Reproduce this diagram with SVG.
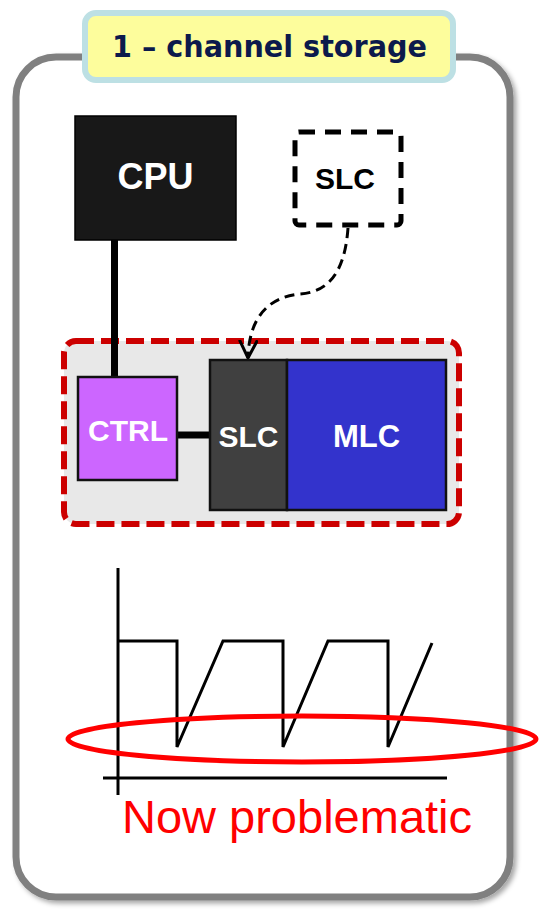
<svg xmlns="http://www.w3.org/2000/svg" width="539" height="909" viewBox="0 0 539 909">
<style>
.lbl{font-family:"Liberation Sans",Arial,sans-serif;font-weight:bold;text-anchor:middle}
.wire{stroke:#000;stroke-width:7;fill:none}
.axis{stroke:#000;stroke-width:3;fill:none}
</style>
<defs>
<filter id="sh" x="-5%" y="-5%" width="115%" height="115%">
<feDropShadow dx="3" dy="3" stdDeviation="2.5" flood-color="#000" flood-opacity="0.35"/>
</filter>
<marker id="arr" viewBox="0 0 20 20" refX="18" refY="10" markerWidth="20" markerHeight="20" markerUnits="userSpaceOnUse" orient="auto">
<path d="M0,1 L18,10 L0,19" fill="none" stroke="#000" stroke-width="3"/>
</marker>
</defs>
<rect id="frame" x="16" y="57" width="494" height="840" rx="40" fill="#fff" stroke="#808080" stroke-width="7" filter="url(#sh)"/>
<g id="title">
<rect x="85" y="13" width="368" height="67" rx="11" fill="#fdfd9c" stroke="#bde0e4" stroke-width="6"/>
<text x="269.5" y="57" font-family="'DejaVu Sans',sans-serif" font-weight="bold" font-size="31" fill="#0c1a4c" text-anchor="middle" textLength="315" lengthAdjust="spacingAndGlyphs">1 – channel storage</text>
</g>
<g id="package">
<rect x="64" y="341" width="395" height="183" rx="12" fill="#e8e8e8" stroke="#cc0000" stroke-width="6" stroke-dasharray="18 7"/>
</g>
<g id="connectors">
<line class="wire" x1="114.5" y1="240" x2="114.5" y2="377"/>
<line class="wire" x1="177" y1="435" x2="210" y2="435"/>
<path d="M348,228 C345,270 330,292 300,294 C268,297 249,318 248,358" fill="none" stroke="#000" stroke-width="3" stroke-dasharray="10 6" marker-end="url(#arr)"/>
</g>
<g id="cpu">
<rect x="75" y="116" width="161" height="124" fill="#181818" stroke="#000" stroke-width="1.5"/>
<text class="lbl" x="155.5" y="189" font-size="36" fill="#fff">CPU</text>
</g>
<g id="slc-ext">
<rect x="295" y="132" width="106" height="93" rx="4" fill="#fff" stroke="#000" stroke-width="5" stroke-dasharray="16 10"/>
<text class="lbl" x="345" y="189" font-size="30" fill="#000">SLC</text>
</g>
<g id="ctrl">
<rect x="78" y="377" width="99" height="103" fill="#cc66ff" stroke="#111" stroke-width="2.5"/>
<text class="lbl" x="128" y="441" font-size="30" fill="#fff">CTRL</text>
</g>
<g id="slc">
<rect x="210" y="360" width="77" height="150" fill="#404040" stroke="#111" stroke-width="2.5"/>
<text class="lbl" x="248.5" y="447" font-size="30" fill="#fff">SLC</text>
</g>
<g id="mlc">
<rect x="287" y="360" width="159" height="150" fill="#3333cc" stroke="#111" stroke-width="2.5"/>
<text class="lbl" x="366.5" y="447" font-size="31" fill="#fff">MLC</text>
</g>
<g id="graph">
<line class="axis" x1="118" y1="568" x2="118" y2="795"/>
<line class="axis" x1="103" y1="778" x2="447" y2="778"/>
<polyline class="axis" points="118,641 177,641 177,747 223,641 283,641 283,747 328,641 388,641 388,747 432,643"/>
<ellipse cx="302" cy="739" rx="234" ry="23" fill="none" stroke="#ff0000" stroke-width="5"/>
<text x="122" y="833" font-family="'Liberation Sans',Arial,sans-serif" font-size="47" fill="#ff0000">Now problematic</text>
</g>
</svg>
